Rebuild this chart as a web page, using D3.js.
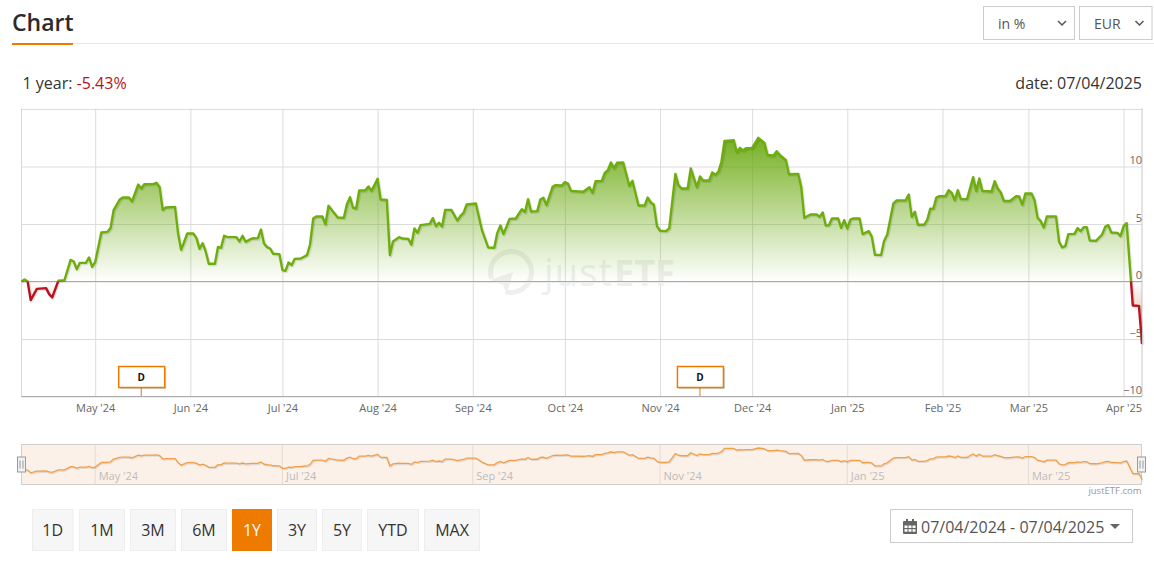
<!DOCTYPE html>
<html>
<head>
<meta charset="utf-8">
<script src="https://d3js.org/d3.v7.min.js"></script>
<style>
  html, body { margin: 0; padding: 0; background: #fff; }
  svg { display: block; font-family: "Open Sans", sans-serif; }
  .axis path { display: none; }
  .grid line { stroke: #dcdcdc; }
</style>
</head>
<body>
<svg id="chart" width="1154" height="570"></svg>
<script>
// days after the start date, and the return in % on that day
var startDate = "2024-04-07";
var dayOffsets = [0,1,2,3,5,8,9,10,12,14,16,17,18,19,21,22,23,24,26,28,29,30,32,33,35,36,38,39,40,43,44,45,46,47,50,51,52,54,56,57,58,59,60,61,63,64,65,66,67,70,71,72,73,75,77,78,79,80,81,82,84,85,86,87,88,89,91,93,94,95,96,98,99,100,103,105,106,107,108,109,110,112,113,114,116,117,119,120,121,123,124,126,127,128,129,130,133,134,135,136,137,138,140,142,143,144,145,148,150,152,154,155,156,157,159,161,163,164,165,166,168,169,170,171,173,174,176,177,178,179,183,185,186,187,189,190,191,192,193,194,196,198,199,201,203,204,205,206,207,208,210,211,213,214,215,217,218,220,221,222,224,225,226,227,228,229,232,233,234,235,236,238,240,242,243,245,246,247,249,250,253,254,255,257,259,260,261,262,263,264,266,267,268,269,270,271,273,274,276,277,278,280,281,282,284,285,288,289,290,291,292,294,295,296,297,298,299,301,302,303,304,305,306,308,310,311,312,313,316,317,318,319,320,322,324,325,326,327,329,330,331,332,333,334,337,338,339,340,341,343,344,345,346,347,348,350,352,353,354,355,357,358,359,360,362,364,365];
var returns = [0,0.17,0,-1.62,-0.64,-0.58,-1.10,-1.39,0.06,0.12,1.88,1.74,1.07,1.62,1.62,2.09,1.28,1.68,4.26,4.32,4.64,6.2,7.13,7.3,7.3,6.96,8.43,8.09,8.46,8.49,8.58,8.2,6.23,6.43,6.49,4.2,2.75,4.17,4.17,3.77,2.84,3.33,2.61,1.54,1.54,3.0,2.93,3.97,3.88,3.86,3.48,3.97,3.45,3.74,3.77,4.52,3.3,2.99,2.87,2.41,2.38,0.99,0.93,1.65,1.42,1.97,2.0,2.29,3.22,5.45,5.65,5.65,4.96,6.58,5.57,5.54,6.72,7.33,6.41,6.35,7.91,7.94,8.26,7.88,8.93,7.13,7.1,2.29,3.48,3.86,3.74,3.71,3.19,4.61,4.23,4.9,5.01,5.51,4.81,5.1,4.78,6.23,6.23,5.3,5.71,5.97,6.7,6.78,4.46,2.96,2.93,4.23,4.87,4.12,5.45,5.48,6.29,6.03,7.16,6.09,6.12,7.13,7.28,6.64,8.23,8.38,8.35,8.64,8.52,7.88,7.8,8.2,7.71,8.72,8.75,9.45,9.68,10.35,9.86,10.32,10.35,8.32,8.75,6.61,6.61,7.3,6.87,6.67,4.81,4.41,4.38,4.64,9.36,8.38,8.09,8.09,9.83,8.2,9.13,8.78,8.78,9.48,9.28,9.54,10.41,12.23,12.29,11.25,11.62,11.39,11.59,11.62,12.49,12.06,11.0,10.96,11.33,11.0,10.55,9.33,9.36,8.23,5.54,5.83,5.83,5.62,6.0,4.87,4.9,5.48,5.48,4.67,5.33,4.61,5.39,5.48,5.48,4.12,4.38,3.88,2.32,2.29,3.54,4.06,6.78,7.04,7.07,7.57,5.62,6.06,4.93,4.93,5.33,6.32,6.32,7.3,7.42,7.42,7.94,7.71,7.07,7.94,7.16,7.16,9.07,7.88,8.96,7.88,7.83,8.72,8.09,7.74,7.0,7.0,7.42,7.39,6.67,7.65,7.65,7.07,5.54,5.25,4.7,5.65,5.65,3.45,2.96,3.07,4.12,4.14,4.64,4.38,4.72,4.72,3.57,3.54,4.09,4.75,4.9,4.26,4.23,3.94,4.81,5.07,-2.09,-2.12,-5.43];
var yTicks = [-10,-5,0,5,10];
var flagDates = ["2024-05-16","2024-11-14"];
var navTickMonths = ["2024-05-01","2024-07-01","2024-09-01","2024-11-01","2025-01-01","2025-03-01"];
var rangeButtons = ["1D","1M","3M","6M","1Y","3Y","5Y","YTD","MAX"];
var buttonLeft = [32,79,130,181,232,277,322,367,424];
var buttonRight = [73.5,125,176,227,272,317,362,419,480];
var activeButton = "1Y";

var parseDay = d3.utcParse("%Y-%m-%d");
var start = parseDay(startDate);
var data = dayOffsets.map(function(d, i) {
  return { date: d3.utcDay.offset(start, d), value: returns[i] };
});

var svg = d3.select("#chart");
var defs = svg.append("defs");

var x = d3.scaleUtc().domain([start, d3.utcDay.offset(start, 365)]).range([21.5, 1142]);
var y = d3.scaleLinear().domain([-10, 15]).range([396.5, 109]);
var yNav = d3.scaleLinear().domain([-7.95, 14.77]).range([484, 444]);
var monthFormat = d3.utcFormat("%b '%y");
var months = d3.utcMonth.range(d3.utcDay.offset(start, 1), d3.utcDay.offset(start, 366));

// header
svg.append("text").attr("x", 12).attr("y", 31).attr("font-size", 23).attr("font-weight", 600).attr("fill", "#2b2b2b").text("Chart");
svg.append("line").attr("x1", 12).attr("x2", 1154).attr("y1", 43.5).attr("y2", 43.5).attr("stroke", "#e6e6e6");
svg.append("rect").attr("x", 12).attr("y", 43).attr("width", 61).attr("height", 2).attr("fill", "#ee7a00");

function selectBox(left, width, label, labelX) {
  svg.append("rect").attr("x", left).attr("y", 6.5).attr("width", width).attr("height", 33)
    .attr("fill", "#fff").attr("stroke", "#ccc");
  svg.append("text").attr("x", labelX).attr("y", 29).attr("font-size", 14).attr("fill", "#555").text(label);
  var cx = left + width - 8 - 0.5;
  svg.append("path").attr("d", "M" + (cx - 12 + 4) + ",21 l4,4 l4,-4").attr("fill", "none").attr("stroke", "#555").attr("stroke-width", 1.5);
}
selectBox(983.5, 91, "in %", 998);
selectBox(1079.5, 72.5, "EUR", 1094);

var info = svg.append("text").attr("x", 22.5).attr("y", 89).attr("font-size", 16).attr("fill", "#333");
info.append("tspan").text("1 year: ");
info.append("tspan").attr("fill", "#b3141d").text("-5.43%");
svg.append("text").attr("x", 1142).attr("y", 89).attr("text-anchor", "end").attr("font-size", 16).attr("fill", "#333").text("date: 07/04/2025");

// plot frame and grid
svg.append("g").attr("class", "grid")
  .attr("transform", "translate(0,396.5)")
  .call(d3.axisBottom(x).tickValues(months).tickSize(-288).tickFormat(""))
  .call(function(g) { g.select(".domain").remove(); });
svg.append("g").attr("class", "grid")
  .attr("transform", "translate(21.5,0)")
  .call(d3.axisRight(y).tickValues(yTicks.concat([15])).tickSize(1120.5).tickFormat(""))
  .call(function(g) { g.select(".domain").remove(); });
svg.append("line").attr("x1", 21.5).attr("x2", 21.5).attr("y1", 108.5).attr("y2", 396.5).attr("stroke", "#d8d8d8");
svg.append("line").attr("x1", 1142).attr("x2", 1142).attr("y1", 108.5).attr("y2", 396.5).attr("stroke", "#c8c8c8");

// watermark
var mark = svg.append("g").attr("fill", "#efefef");
mark.append("path")
  .attr("d", d3.arc().innerRadius(18).outerRadius(23).startAngle(-1.9).endAngle(3.4)())
  .attr("transform", "translate(511,272)");
mark.append("path").attr("d", "M513,272 L490,280 L503,285 L507,294 Z");
mark.append("text").attr("x", 544).attr("y", 286).attr("font-size", 38).attr("font-weight", 400).attr("textLength", 68).text("just");
mark.append("text").attr("x", 614).attr("y", 286).attr("font-size", 36).attr("font-weight", 700).text("ETF");

// area and line, split at zero
function clipAt(id, top, bottom) {
  defs.append("clipPath").attr("id", id).append("rect")
    .attr("x", 20).attr("width", 1122).attr("y", top).attr("height", bottom - top);
}
clipAt("aboveZero", 100, y(0));
clipAt("belowZero", y(0), 400);

function gradient(id, y1, y2, color, opacity) {
  var g = defs.append("linearGradient").attr("id", id).attr("gradientUnits", "userSpaceOnUse")
    .attr("x1", 0).attr("x2", 0).attr("y1", y1).attr("y2", y2);
  g.append("stop").attr("offset", 0).attr("stop-color", color).attr("stop-opacity", opacity);
  g.append("stop").attr("offset", 1).attr("stop-color", color).attr("stop-opacity", 0);
}
gradient("greenFill", y(12.5), y(0), "#6aa90f", 0.92);
gradient("redFill", y(-5.43), y(0), "#b9692f", 0.6);

var area = d3.area().x(function(d) { return x(d.date); }).y0(y(0)).y1(function(d) { return y(d.value); });
var line = d3.line().x(function(d) { return x(d.date); }).y(function(d) { return y(d.value); });

svg.append("path").datum(data).attr("d", area).attr("fill", "url(#greenFill)").attr("clip-path", "url(#aboveZero)");
svg.append("path").datum(data).attr("d", area).attr("fill", "url(#redFill)").attr("clip-path", "url(#belowZero)");

// zero line goes over the fill
svg.append("line").attr("x1", 21.5).attr("x2", 1142).attr("y1", y(0)).attr("y2", y(0)).attr("stroke", "#aaa");

svg.append("path").datum(data).attr("d", line).attr("fill", "none")
  .attr("stroke", "#000").attr("stroke-opacity", 0.1).attr("stroke-width", 3)
  .attr("transform", "translate(1,1)").attr("stroke-linejoin", "round");
svg.append("path").datum(data).attr("d", line).attr("fill", "none")
  .attr("stroke", "#6dae0c").attr("stroke-width", 2.4).attr("stroke-linejoin", "round")
  .attr("clip-path", "url(#aboveZero)");
svg.append("path").datum(data).attr("d", line).attr("fill", "none")
  .attr("stroke", "#bb1220").attr("stroke-width", 2.4).attr("stroke-linejoin", "round")
  .attr("clip-path", "url(#belowZero)");

// bottom axis line and labels
svg.append("line").attr("x1", 21.5).attr("x2", 1142).attr("y1", 396.5).attr("y2", 396.5).attr("stroke", "#aaa");
svg.append("g").attr("class", "axis")
  .attr("transform", "translate(0,396.5)")
  .call(d3.axisBottom(x).tickValues(months).tickSize(0).tickPadding(8).tickFormat(monthFormat))
  .call(function(g) {
    g.selectAll("text").attr("font-family", "'Open Sans', sans-serif").attr("font-size", 11).attr("fill", "#666");
    g.selectAll(".tick").filter(function(d, i) { return i == months.length - 1; }).select("text")
      .attr("text-anchor", "end").attr("dx", 18);
  });
svg.append("g").attr("class", "axis")
  .attr("transform", "translate(1142,0)")
  .call(d3.axisLeft(y).tickValues(yTicks).tickSize(0).tickPadding(0))
  .call(function(g) {
    g.selectAll("text").attr("font-family", "'Open Sans', sans-serif").attr("font-size", 11).attr("fill", "#666").attr("dy", "-0.25em");
  });

// flags
flagDates.forEach(function(d) {
  var fx = x(parseDay(d));
  svg.append("line").attr("x1", fx).attr("x2", fx).attr("y1", 387).attr("y2", 396).attr("stroke", "#ee7a00");
  svg.append("rect").attr("x", fx - 22.5 + 1.5).attr("y", 368).attr("width", 46).attr("height", 21).attr("fill", "#000").attr("opacity", 0.18);
  svg.append("rect").attr("x", fx - 22.5).attr("y", 366.5).attr("width", 46).attr("height", 21)
    .attr("fill", "#fff").attr("stroke", "#ee7a00").attr("stroke-width", 1.5);
  svg.append("text").attr("x", fx).attr("y", 380.5).attr("text-anchor", "middle")
    .attr("font-size", 10).attr("font-weight", 700).attr("fill", "#111").text("D");
});

// navigator
svg.append("rect").attr("x", 21.5).attr("y", 444.5).attr("width", 1120).attr("height", 40)
  .attr("fill", "#fbf1e8").attr("stroke", "#cfcfcf");
navTickMonths.forEach(function(d) {
  var mx = x(parseDay(d));
  svg.append("line").attr("x1", mx).attr("x2", mx).attr("y1", 445).attr("y2", 484).attr("stroke", "#e3dcd5");
  svg.append("text").attr("x", mx + 3.5).attr("y", 480).attr("font-size", 11).attr("fill", "#bbb").text(monthFormat(parseDay(d)));
});
var navLine = d3.line().x(function(d) { return x(d.date); }).y(function(d) { return yNav(d.value); });
svg.append("path").datum(data).attr("d", navLine).attr("fill", "none")
  .attr("stroke", "#000").attr("stroke-opacity", 0.1).attr("stroke-width", 1.5).attr("transform", "translate(1,1)");
svg.append("path").datum(data).attr("d", navLine).attr("fill", "none")
  .attr("stroke", "#f0a04b").attr("stroke-width", 1.3);

[21.5, 1141.5].forEach(function(hx) {
  svg.append("rect").attr("x", hx - 4).attr("y", 457).attr("width", 8).attr("height", 15)
    .attr("fill", "#f2f2f2").attr("stroke", "#999");
  svg.append("path").attr("d", "M" + (hx - 1.5) + ",460.5 v8 M" + (hx + 1.5) + ",460.5 v8")
    .attr("stroke", "#999").attr("fill", "none");
});
svg.append("text").attr("x", 1141.5).attr("y", 494).attr("text-anchor", "end").attr("font-size", 9.5).attr("fill", "#999").text("justETF.com");

// range buttons
rangeButtons.forEach(function(b, i) {
  var active = b == activeButton;
  svg.append("rect").attr("x", buttonLeft[i] + 0.5).attr("y", 509.5)
    .attr("width", buttonRight[i] - buttonLeft[i] - 1).attr("height", 41)
    .attr("fill", active ? "#ee7a00" : "#f6f6f6").attr("stroke", active ? "#ee7a00" : "#eee");
  svg.append("text").attr("x", (buttonLeft[i] + buttonRight[i]) / 2).attr("y", 535.5).attr("text-anchor", "middle")
    .attr("font-size", 16).attr("fill", active ? "#fff" : "#333").text(b);
});

// date range picker
svg.append("rect").attr("x", 890.5).attr("y", 509.5).attr("width", 242).attr("height", 33).attr("fill", "#fff").attr("stroke", "#ccc");
var cal = svg.append("g").attr("fill", "#666");
cal.append("rect").attr("x", 903).attr("y", 521).attr("width", 14).attr("height", 13).attr("rx", 1);
cal.append("rect").attr("x", 906).attr("y", 519).attr("width", 2).attr("height", 3);
cal.append("rect").attr("x", 912).attr("y", 519).attr("width", 2).attr("height", 3);
d3.range(3).forEach(function(c) {
  d3.range(2).forEach(function(r) {
    cal.append("rect").attr("x", 904.5 + c * 4).attr("y", 525.5 + r * 3.7).attr("width", 3).attr("height", 2.5).attr("fill", "#fff");
  });
});
svg.append("text").attr("x", 921).attr("y", 533).attr("font-size", 16).attr("fill", "#555").text("07/04/2024 - 07/04/2025");
svg.append("path").attr("d", "M1110,524 h10 l-5,5 z").attr("fill", "#666");
</script>
</body>
</html>
